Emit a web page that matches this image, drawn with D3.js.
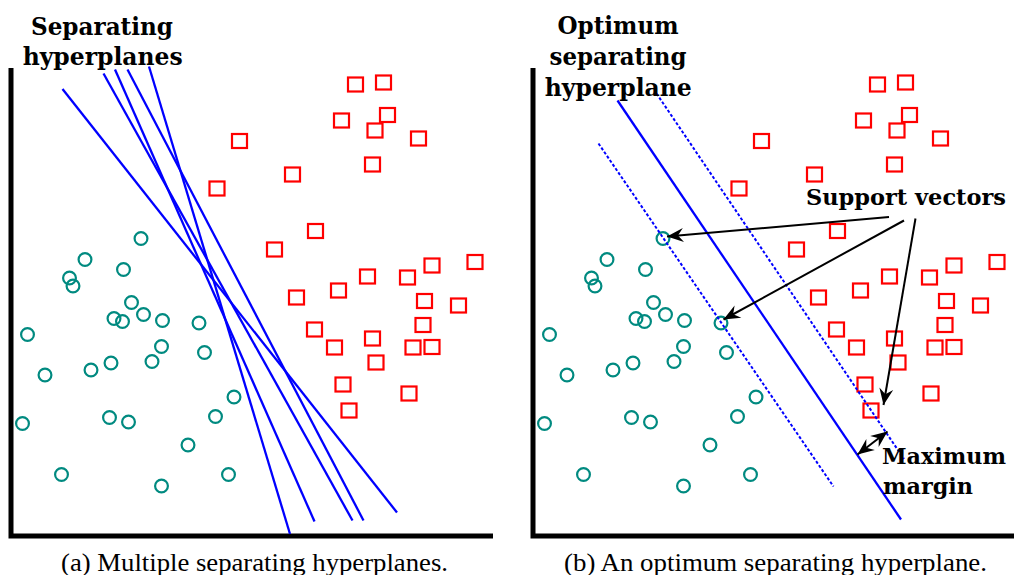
<!DOCTYPE html>
<html>
<head>
<meta charset="utf-8">
<script src="https://cdn.jsdelivr.net/npm/d3@7"></script>
<style>
  body { margin: 0; background: #fff; }
  svg { display: block; }
</style>
</head>
<body>
<div id="chart"></div>
<script>
// Class 1 (circles) - data units, same in both panels
const circleX = [25.8, 14.6, 11.5, 12.2, 22.3, 23.9, 20.4, 22.1, 26.3, 30.1, 37.4, 3.1, 29.9, 38.5,
                 6.6, 15.8, 19.8, 28.0, 44.4, 2.1, 19.5, 23.3, 40.7, 35.2, 9.9, 29.9, 43.3];
const circleY = [59.5, 55.3, 51.6, 50.0, 53.3, 46.7, 43.5, 42.9, 44.3, 43.1, 42.6, 40.3, 37.9, 36.7,
                 32.2, 33.2, 34.6, 34.9, 27.8, 22.5, 23.7, 22.8, 23.9, 18.2, 12.3, 10.0, 12.3];

// Class 2 (squares)
const squareX = [68.7, 74.3, 65.9, 75.1, 72.6, 81.3, 45.5, 72.1, 56.1, 41.0, 60.7, 52.5, 92.6, 84.0, 71.1,
                 79.1, 65.3, 56.9, 82.5, 89.3, 60.5, 82.2, 72.1, 64.5, 80.2, 84.0, 72.8, 66.2, 79.4, 67.4];
const squareY = [90.3, 90.7, 83.1, 84.2, 81.1, 79.5, 79.0, 74.3, 72.3, 69.5, 61.0, 57.3, 54.8, 54.1, 51.9,
                 51.7, 49.1, 47.7, 47.0, 46.1, 41.3, 42.2, 39.5, 37.7, 37.7, 37.8, 34.7, 30.3, 28.5, 25.1];

// (a) candidate separating hyperplanes: [x1, y1, x2, y2]
const hyperplanes = [
  [10.1, 89.4, 77.0, 4.7],
  [18.3, 92.5, 68.1, 3.1],
  [20.6, 93.3, 60.5, 2.9],
  [23.1, 93.3, 70.3, 3.1],
  [27.4, 93.9, 55.6, 0.4]
];

// (b) optimum hyperplane and the two margin boundaries
const optimumPlane = [16.7, 87.1, 73.4, 3.3];
const marginPlanes = [
  [24.5, 88.5, 74.0, 15.4],
  [12.9, 78.5, 59.9, 9.9]
];

// annotation arrows in panel (b): [fromX, fromY, toX, toY]
const supportArrows = [
  [71.0, 63.8, 26.6, 59.9],
  [74.0, 63.1, 37.9, 43.3],
  [76.3, 63.5, 69.9, 26.2]
];
const marginArrow = [64.7, 16.3, 70.7, 20.9];

const W = 1014, H = 575;
const y = d3.scaleLinear().domain([0, 100]).range([536, 36]);
const xA = d3.scaleLinear().domain([0, 100]).range([12, 512]);
const xB = d3.scaleLinear().domain([0, 100]).range([534, 1034]);

const svg = d3.select("#chart").append("svg")
  .attr("width", W).attr("height", H)
  .attr("viewBox", `0 0 ${W} ${H}`);

const defs = svg.append("defs");
defs.append("marker")
  .attr("id", "stealth")
  .attr("viewBox", "-18 -8 19 16")
  .attr("refX", 0).attr("refY", 0)
  .attr("markerWidth", 19).attr("markerHeight", 16)
  .attr("markerUnits", "userSpaceOnUse")
  .attr("orient", "auto-start-reverse")
  .append("path")
  .attr("d", "M0,0 L-16.5,-7 L-11,0 L-16.5,7 Z")
  .attr("fill", "#000");

const teal = "#008a80", red = "#ff0000", blue = "#0000ff";

function drawPanel(x, axisRight) {
  const g = svg.append("g");

  // axes (L shape)
  g.append("path")
    .attr("d", `M${x(-0.2)},${y(93.6)} L${x(-0.2)},${y(0)} L${axisRight},${y(0)}`)
    .attr("fill", "none").attr("stroke", "#000").attr("stroke-width", 5);

  g.selectAll("circle.c")
    .data(d3.range(circleX.length))
    .join("circle")
    .attr("class", "c")
    .attr("cx", i => x(circleX[i]))
    .attr("cy", i => y(circleY[i]))
    .attr("r", 6.4)
    .attr("fill", "none")
    .attr("stroke", teal)
    .attr("stroke-width", 2.2);

  g.selectAll("rect.s")
    .data(d3.range(squareX.length))
    .join("rect")
    .attr("class", "s")
    .attr("x", i => x(squareX[i]) - 7.5)
    .attr("y", i => y(squareY[i]) - 7)
    .attr("width", 15).attr("height", 14)
    .attr("fill", "none")
    .attr("stroke", red)
    .attr("stroke-width", 2.2);
  return g;
}

function seg(g, x, d) {
  return g.append("line")
    .attr("x1", x(d[0])).attr("y1", y(d[1]))
    .attr("x2", x(d[2])).attr("y2", y(d[3]));
}

// ---- panel (a)
const gA = drawPanel(xA, 493);
hyperplanes.forEach(d => {
  seg(gA, xA, d).attr("stroke", blue).attr("stroke-width", 2.3);
});

// ---- panel (b)
const gB = drawPanel(xB, 1014);
seg(gB, xB, optimumPlane).attr("stroke", blue).attr("stroke-width", 2.3);
marginPlanes.forEach(d => {
  seg(gB, xB, d).attr("stroke", blue).attr("stroke-width", 2)
    .attr("stroke-dasharray", "3,2");
});
supportArrows.forEach(d => {
  seg(gB, xB, d).attr("stroke", "#000").attr("stroke-width", 2)
    .attr("marker-end", "url(#stealth)");
});
seg(gB, xB, marginArrow).attr("stroke", "#000").attr("stroke-width", 2)
  .attr("marker-start", "url(#stealth)")
  .attr("marker-end", "url(#stealth)");

// ---- text
const boldFont = "'DejaVu Serif', serif";
function label(txt, px, py, len, anchor, opts = {}) {
  svg.append("text")
    .attr("x", px).attr("y", py)
    .attr("text-anchor", anchor)
    .attr("font-family", opts.family || boldFont)
    .attr("font-weight", opts.weight || "bold")
    .attr("font-size", opts.size || 24)
    .attr("textLength", len)
    .attr("lengthAdjust", "spacingAndGlyphs")
    .attr("fill", "#000")
    .text(txt);
}

label("Separating", 102, 35, 142, "middle");
label("hyperplanes", 102.7, 65, 160, "middle");
label("Optimum", 618, 34, 121, "middle");
label("separating", 618, 65, 137, "middle");
label("hyperplane", 618.3, 96, 147, "middle");

const noteOpts = { size: 22 };
label("Support vectors", 806, 205, 200, "start", noteOpts);
label("Maximum", 882, 464, 124, "start", noteOpts);
label("margin", 883, 494, 90, "start", noteOpts);

const capOpts = { family: "'Liberation Serif', serif", weight: "normal", size: 25 };
label("(a) Multiple separating hyperplanes.", 61, 571, 387, "start", capOpts);
label("(b) An optimum separating hyperplane.", 564, 571, 423, "start", capOpts);
</script>
</body>
</html>
